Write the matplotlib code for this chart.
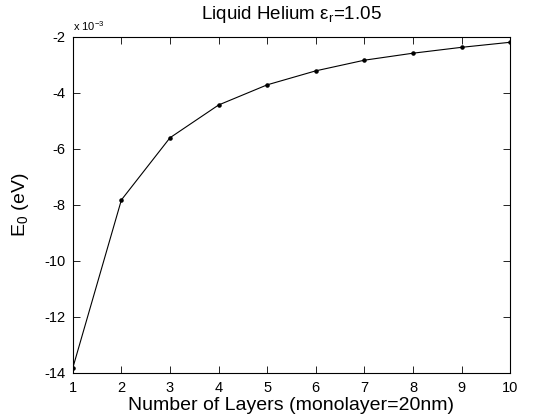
import numpy as np
import matplotlib
matplotlib.use("Agg")
import matplotlib.pyplot as plt

plt.rcParams['font.family'] = ['Liberation Sans', 'DejaVu Sans']
plt.rcParams['axes.unicode_minus'] = False
plt.rcParams['mathtext.fontset'] = 'custom'
plt.rcParams['mathtext.rm'] = 'Liberation Sans'
plt.rcParams['mathtext.it'] = 'Liberation Sans'

# number of layers and ground state energy (in units of 1e-3 eV)
layers = np.arange(1, 11)
energy = np.array([-13.82, -7.82, -5.60, -4.43, -3.71, -3.21, -2.83, -2.58, -2.37, -2.19])

fig = plt.figure(figsize=(5.6, 4.2), dpi=100)
ax = fig.add_axes([0.13, 0.112, 0.781, 0.800])

ax.plot(layers, energy, color='black', linewidth=0.8, marker='.', markersize=4.5)

ax.set_xlim(1, 10)
ax.set_ylim(-14, -2)
ax.set_xticks(np.arange(1, 11))
ax.set_yticks(np.arange(-14, -1, 2))
ax.tick_params(direction='in', top=True, right=True, length=5, width=0.6,
               labelsize=10.5)
ax.tick_params(axis='x', pad=6)
ax.tick_params(axis='y', pad=5)
for s in ax.spines.values():
    s.set_linewidth(0.8)

ax.text(0.0, 1.012, r'x 10$^{-3}$', transform=ax.transAxes, fontsize=8,
        ha='left', va='bottom')
ax.set_title(r'Liquid Helium $\epsilon_{\mathrm{r}}$=1.05', fontsize=13.5, pad=13)
ax.set_xlabel('Number of Layers (monolayer=20nm)', fontsize=14, labelpad=1)
ax.set_ylabel(r'E$_0$ (eV)', fontsize=14, labelpad=10)

fig.savefig('out.png', dpi=100)
